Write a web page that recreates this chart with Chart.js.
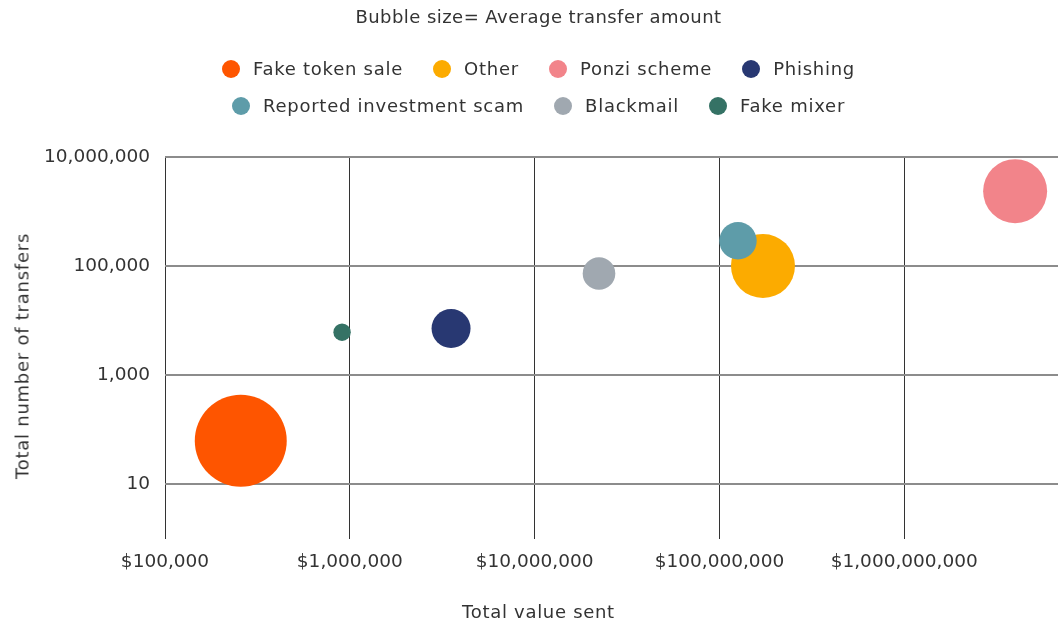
<!DOCTYPE html>
<html>
<head>
<meta charset="utf-8">
<script src="https://cdn.jsdelivr.net/npm/chart.js@4"></script>
<style>
  body { margin: 0; background: #fff; }
  #wrap { position: relative; width: 1058px; height: 624px; overflow: hidden; font-family: "DejaVu Sans", sans-serif; color: #333; }
  #chart { position: absolute; left: 0; top: 0; }
  .title { position: absolute; top: 6px; left: 0; width: 1077px; text-align: center; font-size: 18px; letter-spacing: 0.45px; }
  .legend-row { position: absolute; left: 0; width: 1077px; display: flex; justify-content: center; font-size: 18px; line-height: 24px; letter-spacing: 0.75px; }
  .item { display: flex; align-items: center; margin: 0 15px; }
  .dot { width: 18px; height: 18px; border-radius: 50%; margin-right: 13px; }
  .xtitle { position: absolute; top: 601px; left: 0; width: 1077px; text-align: center; font-size: 18px; letter-spacing: 0.7px; }
  .ytitle { position: absolute; left: 22px; top: 356px; transform: translate(-50%, -50%) rotate(-90deg); white-space: nowrap; font-size: 18px; letter-spacing: 0.75px; }
</style>
</head>
<body>
<div id="wrap">
  <canvas id="chart" width="1058" height="624"></canvas>
  <div class="title">Bubble size= Average transfer amount</div>
  <div class="legend-row" id="row1" style="top:57px"></div>
  <div class="legend-row" id="row2" style="top:94px"></div>
  <div class="ytitle">Total number of transfers</div>
  <div class="xtitle">Total value sent</div>
</div>
<script>
const categories = ["Fake token sale", "Other", "Ponzi scheme", "Phishing", "Reported investment scam", "Blackmail", "Fake mixer"];
const totalValueSent = [257000, 172000000, 3980000000, 3530000, 126000000, 22300000, 908000];
const totalTransfers = [62, 100000, 2360000, 7130, 290000, 72800, 6100];
const bubbleSize = [46, 32, 32, 19.5, 18.7, 16.3, 8.7];
const colors = ["#fe5500", "#fcab00", "#f2848a", "#283872", "#5e9ca9", "#a0a8b0", "#357265"];
const xTicks = [100000, 1000000, 10000000, 100000000, 1000000000];
const yTicks = [10, 1000, 100000, 10000000];

const fontFamily = '"DejaVu Sans", sans-serif';

// legend in two rows, like the original
categories.forEach((c, i) => {
  const item = document.createElement('div');
  item.className = 'item';
  item.innerHTML = '<span class="dot" style="background:' + colors[i] + '"></span><span>' + c + '</span>';
  document.getElementById(i < 4 ? 'row1' : 'row2').appendChild(item);
});

const datasets = categories.map((c, i) => ({
  label: c,
  data: [{ x: totalValueSent[i], y: totalTransfers[i], r: bubbleSize[i] }],
  backgroundColor: colors[i],
  borderWidth: 0,
  hoverBorderWidth: 0,
  order: c === "Reported investment scam" ? 0 : 1
}));

new Chart(document.getElementById('chart'), {
  type: 'bubble',
  data: { datasets: datasets },
  options: {
    responsive: false,
    animation: false,
    layout: { autoPadding: false, padding: { top: 157, left: 0, right: 0, bottom: 0 } },
    plugins: {
      legend: { display: false },
      tooltip: { enabled: false }
    },
    scales: {
      x: {
        type: 'logarithmic',
        min: 100000,
        max: 6790000000,
        afterBuildTicks: s => { s.ticks = xTicks.map(v => ({ value: v })); },
        afterFit: s => { s.height = 85.5; s.paddingLeft = 0; s.paddingRight = 0; },
        ticks: {
          callback: v => '$' + Number(v).toLocaleString('en-US'),
          padding: 13,
          maxRotation: 0,
          autoSkip: false,
          color: '#333',
          font: { size: 18.5, family: fontFamily }
        },
        grid: { color: '#333', lineWidth: 1, drawTicks: false },
        border: { display: false }
      },
      y: {
        type: 'logarithmic',
        min: 1,
        max: 10000000,
        afterBuildTicks: s => { s.ticks = yTicks.map(v => ({ value: v })); },
        afterFit: s => { s.width = 165; },
        ticks: {
          callback: v => Number(v).toLocaleString('en-US'),
          padding: 15,
          autoSkip: false,
          color: '#333',
          font: { size: 18.5, family: fontFamily }
        },
        grid: { color: '#8c8c8c', lineWidth: 2, drawTicks: false },
        border: { display: false }
      }
    }
  }
});
</script>
</body>
</html>
